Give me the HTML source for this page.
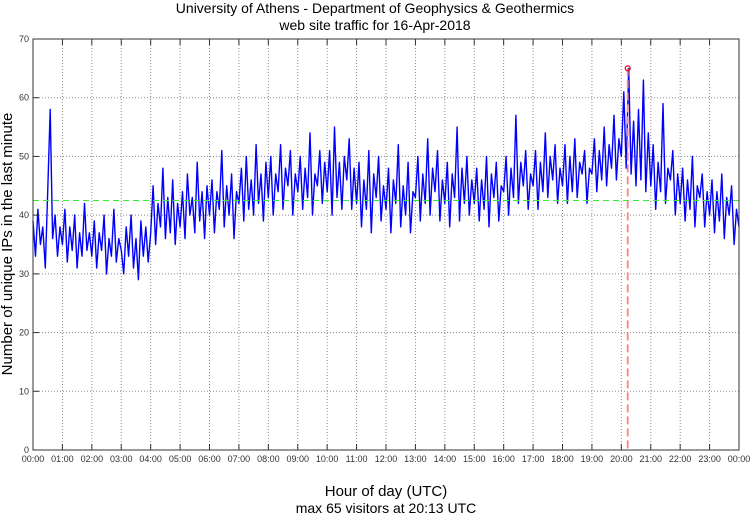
<!DOCTYPE html>
<html><head><meta charset="utf-8">
<style>
html,body{margin:0;padding:0;background:#fff;}
svg{display:block;font-family:"Liberation Sans",sans-serif;}
</style></head>
<body>
<svg id="chart" width="750" height="515" viewBox="0 0 750 515">
<text x="375" y="13" text-anchor="middle" font-size="14" fill="#000">University of Athens - Department of Geophysics &amp; Geothermics</text>
<text x="375" y="30" text-anchor="middle" font-size="14" fill="#000">web site traffic for 16-Apr-2018</text>
<text transform="translate(12,244) rotate(-90)" text-anchor="middle" font-size="15" fill="#000">Number of unique IPs in the last minute</text>
<text x="386" y="496" text-anchor="middle" font-size="15" fill="#000">Hour of day (UTC)</text>
<text x="386" y="513" text-anchor="middle" font-size="14" fill="#000">max 65 visitors at 20:13 UTC</text>
<g id="grid"></g>
<g id="series"></g>
<g id="axes"></g>
</svg>
<script>
const yTicks=[0,10,20,30,40,50,60,70];
const xTickLabels=["00:00","01:00","02:00","03:00","04:00","05:00","06:00","07:00","08:00","09:00","10:00","11:00","12:00","13:00","14:00","15:00","16:00","17:00","18:00","19:00","20:00","21:00","22:00","23:00","00:00"];
const avgValue=42.5;
const maxValue=65;
const maxMinute=20*60+13;
const visitors=[
39,33,41,35,38,31,44,58,36,40,33,38,
35,41,32,38,34,40,31,37,33,42,34,37,
33,39,31,37,34,40,30,36,33,41,32,36,
34,30,38,33,40,31,36,29,39,33,38,32,
37,45,35,42,38,48,36,43,37,46,35,42,
38,44,36,47,40,43,37,49,39,44,36,45,
40,46,37,44,41,51,38,45,40,47,36,44,
42,48,39,50,41,46,40,52,42,47,39,49,
43,50,40,47,44,52,41,48,45,51,40,47,
44,50,41,48,43,54,40,47,45,51,42,49,
44,51,40,55,43,49,41,50,46,53,41,48,
42,49,38,46,41,51,37,47,43,50,39,45,
41,48,37,46,42,52,38,45,40,49,37,44,
43,50,39,47,42,53,40,48,44,51,39,46,
42,49,38,47,43,55,39,48,42,50,40,46,
42,48,39,46,41,50,38,47,43,49,39,45,
44,50,40,48,43,57,42,49,45,51,41,47,
45,51,41,49,44,54,43,50,46,52,42,48,
45,52,42,50,44,53,43,49,47,51,42,48,
47,53,44,51,46,55,45,52,48,57,46,53,
50,61,48,65,47,56,45,58,46,63,44,54,
45,52,41,49,44,59,42,48,46,51,40,47,
42,48,39,46,41,50,38,45,43,47,38,44,
40,46,37,44,39,47,36,43,40,45,35,41,
38];
const NS="http://www.w3.org/2000/svg";
const L=33,R=739,T=39,B=450;
const yMax=70,xMaxMin=1440;
function xs(m){return L+(R-L)*m/xMaxMin;}
function ys(v){return B-(B-T)*v/yMax;}
function mk(tag,attrs,parent){const e=document.createElementNS(NS,tag);for(const k in attrs)e.setAttribute(k,attrs[k]);parent.appendChild(e);return e;}
const grid=document.getElementById('grid'),series=document.getElementById('series'),axes=document.getElementById('axes');
yTicks.forEach(v=>{
  if(v>0&&v<yMax){const g=mk('line',{x1:L,x2:R,y1:ys(v),y2:ys(v),stroke:'#888','stroke-width':1,'stroke-dasharray':'1,2'},grid);
  
  }
  const t=mk('text',{x:L-4,y:ys(v)+3,'text-anchor':'end','font-size':9,fill:'#333'},axes);t.textContent=v;
  
  
  const tk=mk('line',{x1:L,x2:L+6,y1:ys(v),y2:ys(v),stroke:'#333','stroke-width':1},axes);
  
  
});
xTickLabels.forEach((lab,i)=>{
  const x=xs(i*60);
  if(i>0&&i<24){const g=mk('line',{x1:x,x2:x,y1:T,y2:B,stroke:'#888','stroke-width':1,'stroke-dasharray':'1,2'},grid);
  
  }
  const tk=mk('line',{x1:x,x2:x,y1:B,y2:B-6,stroke:'#333','stroke-width':1},axes);
  
  
  const tk2=mk('line',{x1:x,x2:x,y1:T,y2:T+6,stroke:'#333','stroke-width':1},axes);
  
  
  const t=mk('text',{x:x,y:B+12,'text-anchor':'middle','font-size':9,fill:'#333'},axes);t.textContent=lab;
  
  
});
const frame=mk('rect',{x:L,y:T,width:R-L,height:B-T,fill:'none',stroke:'#333','stroke-width':1},axes);


const step=xMaxMin/(visitors.length-1);
const pts=visitors.map((v,i)=>xs(i*step).toFixed(1)+','+ys(v).toFixed(1)).join(' ');
const line=mk('polyline',{points:pts,fill:'none',stroke:'#0000ff','stroke-width':1.4,'stroke-linejoin':'round'},series);


const avg=mk('line',{x1:L,x2:R,y1:ys(avgValue),y2:ys(avgValue),stroke:'#33ee33','stroke-width':1,'stroke-dasharray':'6,4'},series);


const mx=xs(maxMinute);
const ml=mk('line',{x1:mx,x2:mx,y1:ys(maxValue),y2:B,stroke:'#ff8080','stroke-width':1.8,'stroke-dasharray':'8,4'},series);


const mc=mk('circle',{cx:mx,cy:ys(maxValue),r:2.5,fill:'none',stroke:'#ee0000','stroke-width':1.2},series);


</script>
</body></html>
